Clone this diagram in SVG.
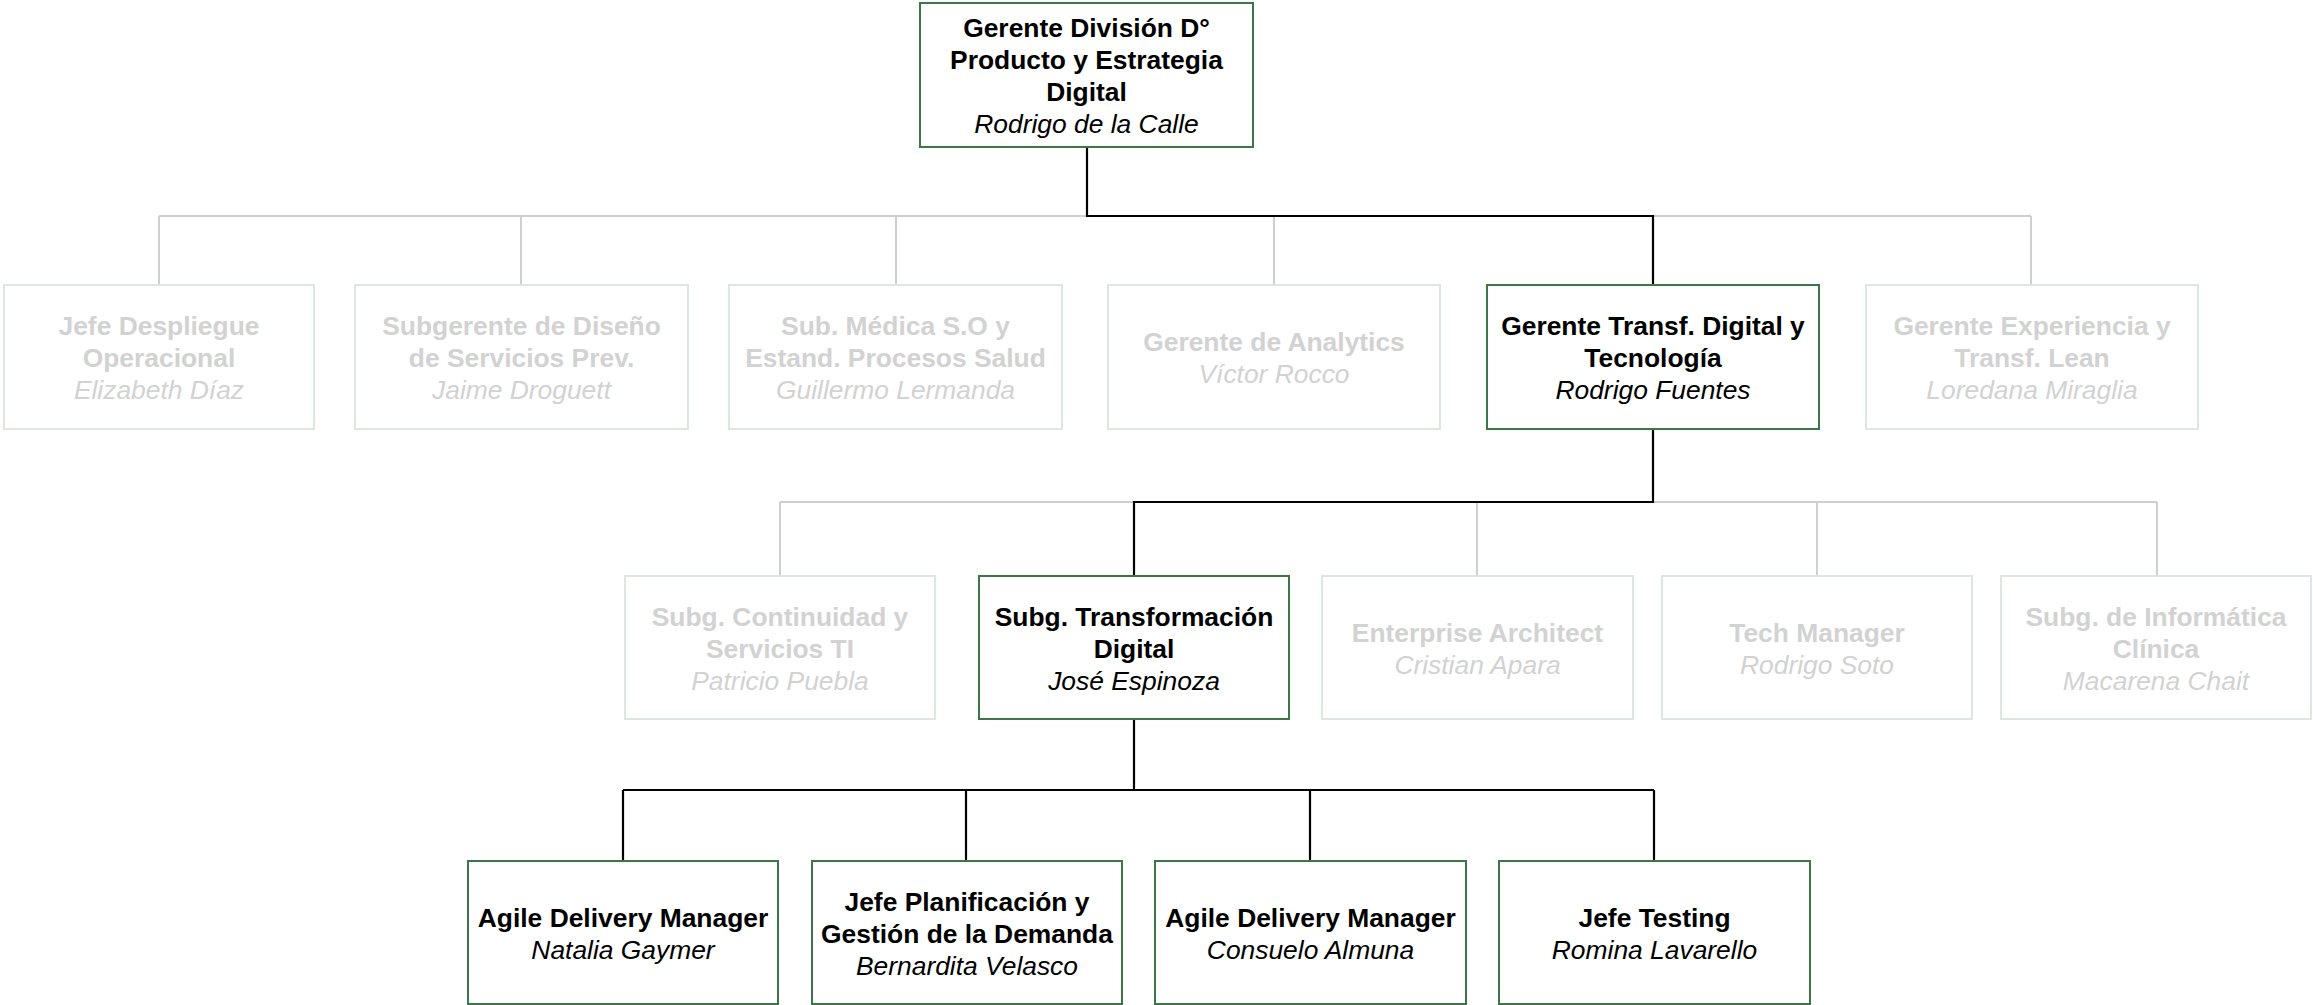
<svg xmlns="http://www.w3.org/2000/svg" width="2313" height="1005" viewBox="0 0 2313 1005">
<style>
  text { font-family: "Liberation Sans", Arial, sans-serif; font-size: 26.4px; text-anchor: middle; }
  .t { font-weight: bold; }
  .n { font-style: italic; }
  .on rect { fill: #ffffff; stroke: #3d7649; stroke-width: 2; }
  .on text { fill: #000000; }
  .off rect { fill: #ffffff; stroke: #dce8df; stroke-width: 2; }
  .off text { fill: #d2d2d2; }
  .cg { fill: none; stroke: #cfcfcf; stroke-width: 2; }
  .cb { fill: none; stroke: #000000; stroke-width: 2.2; }
</style>
<rect width="2313" height="1005" fill="#ffffff"/>
<g id="connectors">
  <!-- level 1 to 2 -->
  <path class="cg" d="M159 216 H2031 M159 216 V285 M521 216 V285 M896 216 V285 M1274 216 V285 M2031 216 V285"/>
  <!-- level 2 to 3 -->
  <path class="cg" d="M780 502 H2157 M780 502 V576 M1477 502 V576 M1817 502 V576 M2157 502 V576"/>
  <path class="cb" d="M1087 147 V216 H1653 V285"/>
  <path class="cb" d="M1653 429 V502 H1134 V576"/>
  <!-- level 3 to 4 -->
  <path class="cb" d="M1134 719 V790 M623 790 H1654 M623 790 V861 M966 790 V861 M1310 790 V861 M1654 790 V861"/>
</g>

<g id="n-gerente-division" class="on">
  <rect x="920" y="3" width="333" height="144"/>
  <text class="t" x="1086.5" y="37">Gerente División D°</text>
  <text class="t" x="1086.5" y="69">Producto y Estrategia</text>
  <text class="t" x="1086.5" y="101">Digital</text>
  <text class="n" x="1086.5" y="133">Rodrigo de la Calle</text>
</g>

<g id="n-jefe-despliegue" class="off">
  <rect x="4" y="285" width="310" height="144"/>
  <text class="t" x="159" y="335">Jefe Despliegue</text>
  <text class="t" x="159" y="367">Operacional</text>
  <text class="n" x="159" y="399">Elizabeth Díaz</text>
</g>

<g id="n-subgerente-diseno" class="off">
  <rect x="355" y="285" width="333" height="144"/>
  <text class="t" x="521.5" y="335">Subgerente de Diseño</text>
  <text class="t" x="521.5" y="367">de Servicios Prev.</text>
  <text class="n" x="521.5" y="399">Jaime Droguett</text>
</g>

<g id="n-sub-medica" class="off">
  <rect x="729" y="285" width="333" height="144"/>
  <text class="t" x="895.5" y="335">Sub. Médica S.O y</text>
  <text class="t" x="895.5" y="367">Estand. Procesos Salud</text>
  <text class="n" x="895.5" y="399">Guillermo Lermanda</text>
</g>

<g id="n-gerente-analytics" class="off">
  <rect x="1108" y="285" width="332" height="144"/>
  <text class="t" x="1274" y="351">Gerente de Analytics</text>
  <text class="n" x="1274" y="383">Víctor Rocco</text>
</g>

<g id="n-gerente-transf" class="on">
  <rect x="1487" y="285" width="332" height="144"/>
  <text class="t" x="1653" y="335">Gerente Transf. Digital y</text>
  <text class="t" x="1653" y="367">Tecnología</text>
  <text class="n" x="1653" y="399">Rodrigo Fuentes</text>
</g>

<g id="n-gerente-experiencia" class="off">
  <rect x="1866" y="285" width="332" height="144"/>
  <text class="t" x="2032" y="335">Gerente Experiencia y</text>
  <text class="t" x="2032" y="367">Transf. Lean</text>
  <text class="n" x="2032" y="399">Loredana Miraglia</text>
</g>

<g id="n-subg-continuidad" class="off">
  <rect x="625" y="576" width="310" height="143"/>
  <text class="t" x="780" y="626">Subg. Continuidad y</text>
  <text class="t" x="780" y="658">Servicios TI</text>
  <text class="n" x="780" y="690">Patricio Puebla</text>
</g>

<g id="n-subg-transformacion" class="on">
  <rect x="979" y="576" width="310" height="143"/>
  <text class="t" x="1134" y="626">Subg. Transformación</text>
  <text class="t" x="1134" y="658">Digital</text>
  <text class="n" x="1134" y="690">José Espinoza</text>
</g>

<g id="n-enterprise-architect" class="off">
  <rect x="1322" y="576" width="311" height="143"/>
  <text class="t" x="1477.5" y="642">Enterprise Architect</text>
  <text class="n" x="1477.5" y="674">Cristian Apara</text>
</g>

<g id="n-tech-manager" class="off">
  <rect x="1662" y="576" width="310" height="143"/>
  <text class="t" x="1817" y="642">Tech Manager</text>
  <text class="n" x="1817" y="674">Rodrigo Soto</text>
</g>

<g id="n-subg-informatica" class="off">
  <rect x="2001" y="576" width="310" height="143"/>
  <text class="t" x="2156" y="626">Subg. de Informática</text>
  <text class="t" x="2156" y="658">Clínica</text>
  <text class="n" x="2156" y="690">Macarena Chait</text>
</g>

<g id="n-agile-1" class="on">
  <rect x="468" y="861" width="310" height="143"/>
  <text class="t" x="623" y="927">Agile Delivery Manager</text>
  <text class="n" x="623" y="959">Natalia Gaymer</text>
</g>

<g id="n-jefe-planificacion" class="on">
  <rect x="812" y="861" width="310" height="143"/>
  <text class="t" x="967" y="911">Jefe Planificación y</text>
  <text class="t" x="967" y="943">Gestión de la Demanda</text>
  <text class="n" x="967" y="975">Bernardita Velasco</text>
</g>

<g id="n-agile-2" class="on">
  <rect x="1155" y="861" width="311" height="143"/>
  <text class="t" x="1310.5" y="927">Agile Delivery Manager</text>
  <text class="n" x="1310.5" y="959">Consuelo Almuna</text>
</g>

<g id="n-jefe-testing" class="on">
  <rect x="1499" y="861" width="311" height="143"/>
  <text class="t" x="1654.5" y="927">Jefe Testing</text>
  <text class="n" x="1654.5" y="959">Romina Lavarello</text>
</g>
</svg>
